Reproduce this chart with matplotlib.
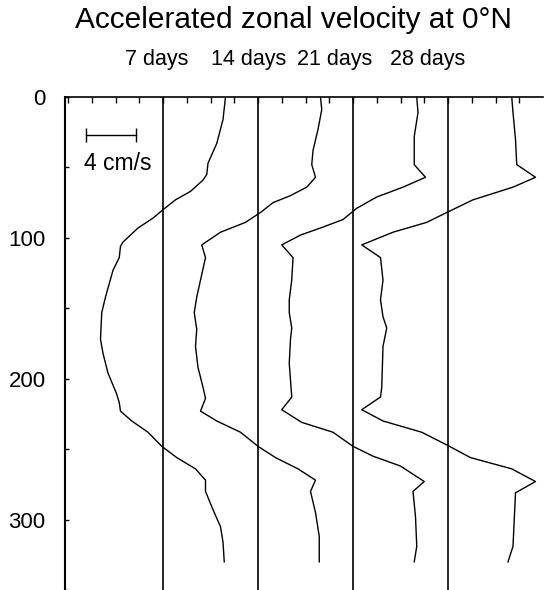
import matplotlib
matplotlib.use("Agg")
import matplotlib.pyplot as plt
import numpy as np

plt.rcParams['font.family'] = ['Liberation Sans', 'DejaVu Sans']

# labels
days = ['7 days', '14 days', '21 days', '28 days']
spacing = 7.6   # cm/s between the zero lines of the profiles

# depth (m) and velocity anomaly (cm/s) for each profile
depth_7 = [0, 16, 33, 47, 55, 59, 67, 73, 80, 86, 93, 103, 106, 114, 123, 142, 153,
           172, 182, 196, 211, 217, 223, 230, 238, 248, 256, 264, 272, 280, 293, 305, 316, 330]
vel_7 = [5.0, 4.8, 4.3, 3.6, 3.5, 3.2, 2.2, 1.0, 0.0, -0.8, -2.0, -3.2, -3.4, -3.5, -4.0, -4.6, -4.9,
         -5.0, -4.8, -4.4, -3.7, -3.5, -3.4, -2.5, -1.2, -0.1, 1.1, 2.6, 3.4, 3.4, 4.0, 4.6, 4.8, 4.9]

depth_14 = [0, 9, 23, 38, 48, 57, 64, 70, 75, 82, 89, 96, 105, 114, 130, 142, 153,
            165, 177, 192, 206, 214, 223, 230, 238, 248, 256, 264, 272, 280, 295, 312, 330]
vel_14 = [5.0, 5.1, 4.8, 4.4, 4.3, 4.6, 3.9, 2.6, 1.2, 0.2, -1.0, -3.0, -4.5, -4.2, -4.6, -4.9, -5.1,
          -4.9, -5.0, -4.8, -4.4, -4.2, -4.6, -3.3, -1.4, 0.0, 1.4, 3.2, 4.6, 4.2, 4.6, 4.9, 4.9]

depth_21 = [0, 11, 28, 48, 57, 64, 71, 79, 87, 93, 98, 105, 114, 130, 144, 153,
            164, 172, 189, 213, 222, 231, 238, 248, 255, 262, 273, 280, 298, 319, 330]
vel_21 = [5.1, 5.2, 4.9, 4.9, 5.8, 4.0, 1.9, 0.3, -0.8, -2.6, -4.2, -5.7, -4.8, -4.9, -5.1, -5.1,
          -4.9, -5.0, -5.1, -4.9, -5.7, -4.1, -1.6, 0.0, 1.6, 3.8, 5.7, 4.8, 5.0, 5.1, 4.9]

depth_28 = [0, 11, 30, 48, 57, 64, 73, 82, 89, 96, 105, 114, 130, 144, 156, 164,
            177, 206, 213, 222, 230, 238, 247, 256, 264, 273, 281, 300, 319, 330]
vel_28 = [5.1, 5.2, 5.4, 5.5, 7.0, 5.2, 2.0, -0.1, -1.7, -4.4, -6.9, -5.4, -5.2, -5.4, -5.2, -4.9,
          -5.2, -5.3, -5.4, -6.9, -5.2, -2.1, -0.1, 1.8, 5.1, 7.0, 5.4, 5.3, 5.2, 4.8]

profiles = [(depth_7, vel_7), (depth_14, vel_14), (depth_21, vel_21), (depth_28, vel_28)]

fig = plt.figure(figsize=(5.44, 5.90), dpi=100)
ax = fig.add_axes([65 / 544, 0, 478 / 544, 493 / 590])

offsets = [i * spacing for i in range(len(days))]
for off, (d, v) in zip(offsets, profiles):
    ax.axvline(off, color='black', lw=1.2)
    ax.plot(np.array(v) + off, d, color='black', lw=1.0)

# scale bar, 4 cm/s
ax.plot([-6.16, -2.16], [27, 27], color='black', lw=1.0, marker='|', ms=10, mew=1.0)
ax.text(-3.6, 47, '4 cm/s', fontsize=16.5, ha='center', va='center')

# day labels above the lines
label_shift = [-0.48, -0.72, -1.44, -1.6]
for off, sh, lab in zip(offsets, label_shift, days):
    ax.text(off + sh, 1.065, lab, transform=ax.get_xaxis_transform(),
            fontsize=15.5, ha='center', va='baseline')

fig.text(293 / 544, 1 - 28 / 590, 'Accelerated zonal velocity at 0°N',
         fontsize=21.5, ha='center', va='baseline')

ax.set_xlim(-7.84, 4 * spacing)
ax.set_ylim(350, 0)

ax.xaxis.set_ticks_position('top')
ax.set_xticks(np.arange(-7.6, 4 * spacing, spacing / 4))
ax.tick_params(axis='x', direction='in', length=4, width=1, labeltop=False, labelbottom=False)

ax.set_yticks([0, 100, 200, 300])
ax.set_yticks([50, 150, 250, 350], minor=True)
ax.tick_params(axis='y', which='both', direction='in', length=3, width=1, labelsize=16, pad=14)

ax.spines['right'].set_visible(False)
ax.spines['bottom'].set_visible(False)
ax.spines['left'].set_linewidth(1.5)
ax.spines['top'].set_linewidth(1.2)

fig.savefig('out.png', dpi=100)
